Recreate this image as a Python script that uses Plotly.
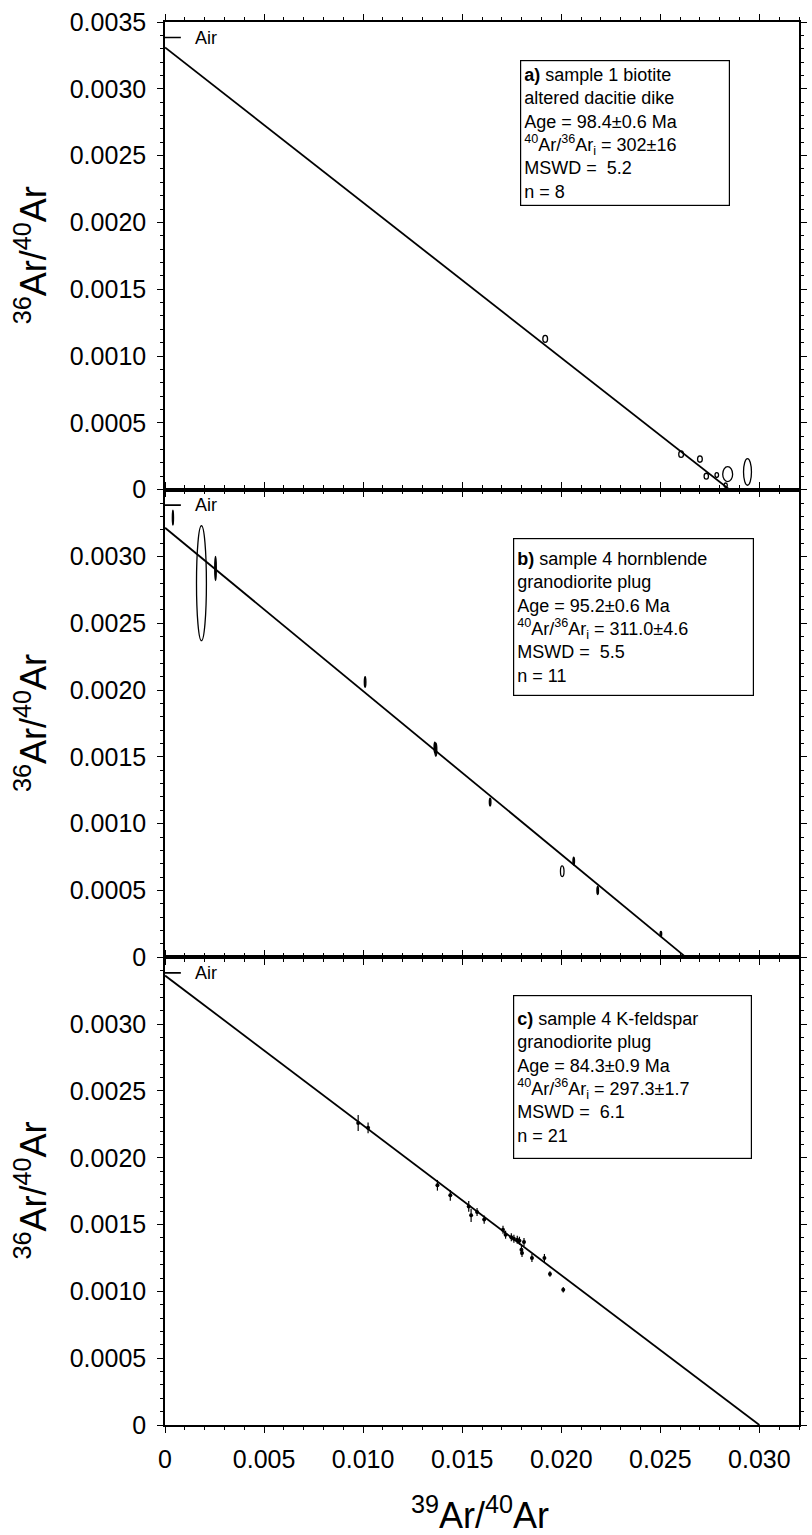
import plotly.graph_objects as go
from plotly.subplots import make_subplots

# ---------------- data ----------------
AIR_RATIO = 0.003384          # atmospheric 36Ar/40Ar (1/295.5)

x_tickvals = [0, 0.005, 0.010, 0.015, 0.020, 0.025, 0.030]
x_ticktext = ["0", "0.005", "0.010", "0.015", "0.020", "0.025", "0.030"]
y_tickvals_top = [0, 0.0005, 0.0010, 0.0015, 0.0020, 0.0025, 0.0030, 0.0035]
y_ticktext_top = ["0", "0.0005", "0.0010", "0.0015", "0.0020", "0.0025", "0.0030", "0.0035"]
y_tickvals = [0, 0.0005, 0.0010, 0.0015, 0.0020, 0.0025, 0.0030]
y_ticktext = ["0", "0.0005", "0.0010", "0.0015", "0.0020", "0.0025", "0.0030"]

# panel a) sample 1 biotite : centres and error-ellipse half axes
a_x  = [0.01919, 0.02605, 0.02700, 0.02732, 0.02785, 0.02840, 0.02940, 0.02830]
a_y  = [0.001128, 0.000266, 0.000229, 0.000101, 0.000109, 0.000116, 0.000133, 0.000034]
a_sx = [0.00012, 0.00012, 0.00012, 0.00011, 0.00009, 0.00025, 0.00020, 0.00008]
a_sy = [0.000026, 0.000024, 0.000024, 0.000022, 0.000018, 0.000056, 0.000100, 0.000016]
a_fit = [0.00331, 0.0285]      # y-intercept, x-intercept

# panel b) sample 4 hornblende
b_x  = [0.00040, 0.00184, 0.00255, 0.01010, 0.01367, 0.01362, 0.01641, 0.02063, 0.02005, 0.02184, 0.02503]
b_y  = [0.00329, 0.00280, 0.00291, 0.00206, 0.001555, 0.00157, 0.001162, 0.00072, 0.000645, 0.00050, 0.000175]
b_sx = [0.00003, 0.00025, 0.00004, 0.00004, 0.00005, 0.00004, 0.00004, 0.00004, 0.00009, 0.00004, 0.00004]
b_sy = [0.000056, 0.00043, 0.00009, 0.00004, 0.00005, 0.00004, 0.00003, 0.00003, 0.00004, 0.00003, 0.00002]
b_fit = [0.003215, 0.0263]

# panel c) sample 4 K-feldspar
c_x = [0.00975, 0.01025, 0.01375, 0.01440, 0.01533, 0.01545, 0.01575, 0.01611, 0.01706, 0.01719,
       0.01748, 0.01761, 0.01778, 0.01789, 0.01799, 0.01802, 0.01812, 0.01852, 0.01915, 0.01943, 0.02010]
c_y = [0.00226, 0.002224, 0.001794, 0.001719, 0.001636, 0.001569, 0.001594, 0.001537, 0.001462, 0.001424,
       0.001405, 0.001394, 0.001387, 0.001379, 0.001312, 0.001287, 0.001370, 0.001250, 0.001250, 0.001130, 0.001012]
c_err = [0.00006, 0.00004, 0.00004, 0.00004, 0.00004, 0.00005, 0.00003, 0.00003, 0.00003, 0.00003,
         0.00003, 0.00003, 0.00003, 0.00003, 0.00004, 0.00003, 0.00003, 0.00003, 0.00003, 0.00002, 0.00002]
c_fit = [0.003364, 0.0300]

box_a = ("<b>a)</b> sample 1 biotite<br>altered dacitie dike<br>Age = 98.4±0.6 Ma<br>"
         "<sup>40</sup>Ar/<sup>36</sup>Ar<sub>i</sub> = 302±16<br>MSWD =\u00a0 5.2<br>n = 8")
box_b = ("<b>b)</b> sample 4 hornblende<br>granodiorite plug<br>Age = 95.2±0.6 Ma<br>"
         "<sup>40</sup>Ar/<sup>36</sup>Ar<sub>i</sub> = 311.0±4.6<br>MSWD =\u00a0 5.5<br>n = 11")
box_c = ("<b>c)</b> sample 4 K-feldspar<br>granodiorite plug<br>Age = 84.3±0.9 Ma<br>"
         "<sup>40</sup>Ar/<sup>36</sup>Ar<sub>i</sub> = 297.3±1.7<br>MSWD =\u00a0 6.1<br>n = 21")

# ---------------- figure ----------------
FONT = "Liberation Sans, Arial, Helvetica, sans-serif"
fig = make_subplots(rows=3, cols=1, shared_xaxes=True, vertical_spacing=0)

panels = [
    (1, "x", "y", a_fit),
    (2, "x2", "y2", b_fit),
    (3, "x3", "y3", c_fit),
]
for row, xr, yr, fit in panels:
    fig.add_trace(go.Scatter(x=[0, fit[1]], y=[fit[0], 0], mode="lines",
                             line=dict(color="black", width=1.8), hoverinfo="skip"),
                  row=row, col=1)
    # air reference dash
    fig.add_shape(type="line", xref=xr, yref=yr, x0=0, x1=0.0008, y0=AIR_RATIO, y1=AIR_RATIO,
                  line=dict(color="black", width=1.6))
    fig.add_annotation(xref=xr, yref=yr, x=0.0014, y=AIR_RATIO, text="Air", showarrow=False,
                       xanchor="left", yanchor="middle", font=dict(family=FONT, size=18, color="black"))

def ellipses(xs, ys, sxs, sys_, xr, yr):
    for x, y, sx, sy in zip(xs, ys, sxs, sys_):
        small = sx < 0.00007
        fig.add_shape(type="circle", xref=xr, yref=yr,
                      x0=x - sx, x1=x + sx, y0=y - sy, y1=y + sy,
                      line=dict(color="black", width=1.3),
                      fillcolor="black" if small else "rgba(0,0,0,0)")

ellipses(a_x, a_y, a_sx, a_sy, "x", "y")
ellipses(b_x, b_y, b_sx, b_sy, "x2", "y2")

fig.add_trace(go.Scatter(x=c_x, y=c_y, mode="markers",
                         marker=dict(color="black", size=4),
                         error_y=dict(type="data", array=c_err, color="black", thickness=1.2, width=0),
                         hoverinfo="skip"), row=3, col=1)

axis_common = dict(showline=True, linecolor="black", linewidth=1.6, mirror="ticks",
                   ticks="outside", ticklen=6, tickwidth=1.2, tickcolor="black",
                   showgrid=False, zeroline=False,
                   tickfont=dict(family=FONT, size=25, color="black"))

for i in range(1, 4):
    fig.update_xaxes(range=[0, 0.032], tickvals=x_tickvals, ticktext=x_ticktext,
                     minor=dict(dtick=0.001, ticks="outside", ticklen=3, tickcolor="black"),
                     showticklabels=(i == 3), ticklabelstandoff=5, **axis_common, row=i, col=1)
    fig.update_yaxes(range=[0, 0.0035],
                     tickvals=y_tickvals_top if i == 1 else y_tickvals,
                     ticktext=y_ticktext_top if i == 1 else y_ticktext,
                     minor=dict(dtick=0.0001, ticks="outside", ticklen=3, tickcolor="black"),
                     ticklabelstandoff=6, **axis_common, row=i, col=1)

# info boxes (paper coordinates)
box_font = dict(family=FONT, size=18, color="black")
for txt, xp, yp, w, h in [(box_a, 0.5592, 0.9729, 202, 138),
                          (box_b, 0.5483, 0.6322, 233, 150),
                          (box_c, 0.5483, 0.3065, 231, 156)]:
    fig.add_annotation(xref="paper", yref="paper", x=xp, y=yp, xanchor="left", yanchor="top",
                       text=txt, showarrow=False, align="left", width=w, height=h,
                       bordercolor="black", borderwidth=1.2, borderpad=3, bgcolor="white",
                       font=box_font)

# axis titles
title_font = dict(family=FONT, size=36, color="black")
for yc in [0.8334, 0.5, 0.1668]:
    fig.add_annotation(xref="paper", yref="paper", x=-0.212, y=yc, xanchor="center", yanchor="middle",
                       text="<sup>36</sup>Ar/<sup>40</sup>Ar", textangle=-90, showarrow=False,
                       font=title_font)
fig.add_annotation(xref="paper", yref="paper", x=0.497, y=-0.063, xanchor="center", yanchor="middle",
                   text="<sup>39</sup>Ar/<sup>40</sup>Ar", showarrow=False, font=title_font)

fig.update_layout(width=812, height=1535, showlegend=False,
                  margin=dict(l=165, r=5, t=22, b=110),
                  paper_bgcolor="white", plot_bgcolor="white")

fig.write_html("out.html")
